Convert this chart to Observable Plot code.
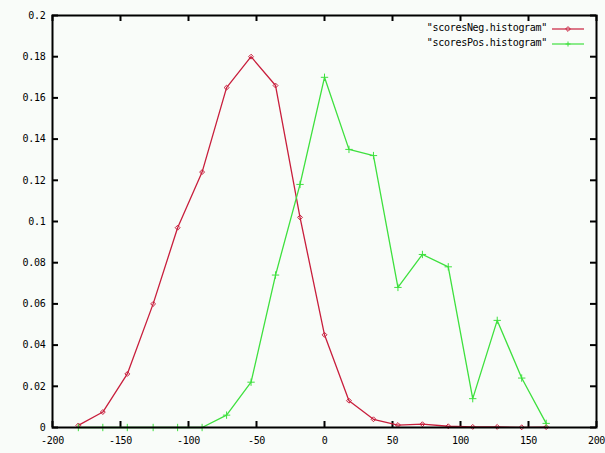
<!DOCTYPE html>
<html>
<head>
<meta charset="utf-8">
<script src="https://cdn.jsdelivr.net/npm/d3@7"></script>
<script src="https://cdn.jsdelivr.net/npm/@observablehq/plot@0.6"></script>
<style>
  html, body { margin: 0; padding: 0; background: #f9fcf9; }
  #wrap { position: relative; width: 605px; height: 453px; }
  #legend { position: absolute; left: 0; top: 0; width: 605px; font-family: "DejaVu Sans Mono", monospace; font-size: 10px; letter-spacing: -0.3px; color: #000; }
  .row { position: absolute; right: 58px; white-space: pre; }
  .swatch { position: absolute; }
</style>
</head>
<body>
<div id="wrap"><div id="legend"></div></div>
<script>
// Data
const bins = [-181, -163, -145, -126, -108, -90, -72, -54, -36, -18, 0, 18, 36, 54, 72, 91, 109, 127, 145, 163];
const negValues = [0.001, 0.0075, 0.026, 0.060, 0.097, 0.124, 0.165, 0.180, 0.166, 0.102, 0.045, 0.013, 0.004, 0.0012, 0.0016, 0.0006, 0.0003, 0.0003, 0.0001, 0.0002];
const posValues = [0, 0, 0, 0, 0, 0, 0.006, 0.022, 0.074, 0.118, 0.170, 0.135, 0.132, 0.068, 0.084, 0.078, 0.014, 0.052, 0.024, 0.002];
const seriesNames = ['"scoresNeg.histogram"', '"scoresPos.histogram"'];
const seriesColors = ["#c81e3c", "#3ee03e"];
const xTicks = [-200, -150, -100, -50, 0, 50, 100, 150, 200];
const yTicks = [0, 0.02, 0.04, 0.06, 0.08, 0.1, 0.12, 0.14, 0.16, 0.18, 0.2];

const neg = bins.map((x, i) => ({x, y: negValues[i]}));
const pos = bins.map((x, i) => ({x, y: posValues[i]}));

const W = 605, H = 453, mL = 52, mR = 9, mT = 15, mB = 26;
const iw = W - mL - mR, ih = H - mT - mB, tk = 6;
const font = {fontFamily: "DejaVu Sans Mono", fontSize: 10, fill: "#000"};

const chart = Plot.plot({
  width: W, height: H,
  marginLeft: mL, marginRight: mR, marginTop: mT, marginBottom: mB,
  style: {background: "#f9fcf9", fontFamily: "DejaVu Sans Mono", fontSize: "10px", letterSpacing: "-0.3px"},
  x: {domain: [-200, 200]},
  y: {domain: [0, 0.2]},
  marks: [
    Plot.axisX(xTicks, {anchor: "bottom", tickSize: 0, tickPadding: 9, tickFormat: d => String(d), label: null, ...font}),
    Plot.axisY(yTicks, {anchor: "left", tickSize: 0, tickPadding: 7, tickFormat: d => String(+d.toFixed(2)), label: null, ...font}),
    Plot.ruleX(xTicks, {x: d => d, insetTop: ih - tk, stroke: "black", strokeWidth: 2}),
    Plot.ruleX(xTicks, {x: d => d, insetBottom: ih - tk, stroke: "black", strokeWidth: 2}),
    Plot.ruleY(yTicks, {y: d => d, insetRight: iw - tk, stroke: "black", strokeWidth: 2}),
    Plot.ruleY(yTicks, {y: d => d, insetLeft: iw - tk, stroke: "black", strokeWidth: 2}),
    Plot.line(neg, {x: "x", y: "y", stroke: seriesColors[0], strokeWidth: 1.3}),
    Plot.dot(neg, {x: "x", y: "y", stroke: seriesColors[0], symbol: "diamond2", r: 2.2, strokeWidth: 1}),
    Plot.line(pos, {x: "x", y: "y", stroke: seriesColors[1], strokeWidth: 1.3}),
    Plot.dot(pos, {x: "x", y: "y", stroke: seriesColors[1], symbol: "plus", r: 2.5, strokeWidth: 1}),
    Plot.frame({stroke: "black", strokeWidth: 2})
  ]
});
const wrap = document.getElementById("wrap");
wrap.insertBefore(chart, wrap.firstChild);

// legend (top right, inside the frame)
const legend = document.getElementById("legend");
seriesNames.forEach((name, i) => {
  const top = 22 + i * 15;
  const row = document.createElement("div");
  row.className = "row";
  row.style.top = top + "px";
  row.textContent = name;
  legend.appendChild(row);
  const sw = document.createElementNS("http://www.w3.org/2000/svg", "svg");
  sw.setAttribute("class", "swatch");
  sw.setAttribute("width", 34); sw.setAttribute("height", 10);
  sw.style.left = "552px"; sw.style.top = (top + 2) + "px";
  sw.innerHTML = `<line x1="0" y1="5" x2="32" y2="5" stroke="${seriesColors[i]}" stroke-width="1.2"/>` +
    (i === 0
      ? `<path d="M16,2.6L18.4,5L16,7.4L13.6,5Z" fill="none" stroke="${seriesColors[i]}"/>`
      : `<path d="M16,2.5V7.5M13.5,5H18.5" stroke="${seriesColors[i]}"/>`);
  legend.appendChild(sw);
});
</script>
</body>
</html>
